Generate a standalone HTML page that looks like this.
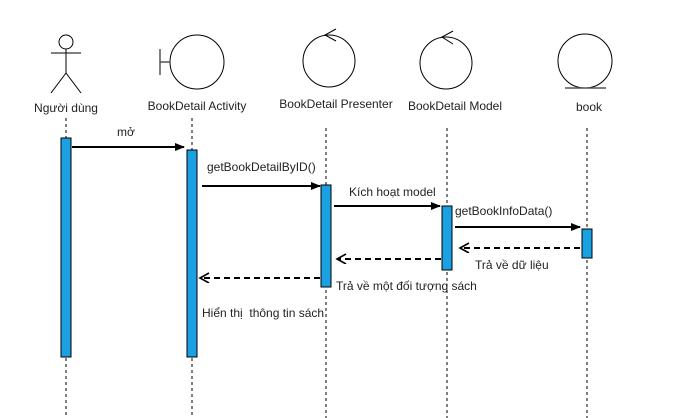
<!DOCTYPE html>
<html><head><meta charset="utf-8"><style>body{margin:0;background:#fff}svg{display:block}text{font-family:"Liberation Sans","DejaVu Sans",sans-serif;font-size:12px;fill:#222}</style></head>
<body>
<svg width="686" height="418" viewBox="0 0 686 418">
<defs>
<marker id="fa" markerWidth="10" markerHeight="10" refX="9" refY="4" orient="auto" markerUnits="userSpaceOnUse"><path d="M0,0 L10,4 L0,8 z" fill="#000"/></marker>
<marker id="oa" markerWidth="12" markerHeight="12" refX="10" refY="5" orient="auto" markerUnits="userSpaceOnUse"><path d="M1,0 L10,5 L1,10" fill="none" stroke="#000" stroke-width="1.6"/></marker>
</defs>
<g stroke="#000" stroke-width="1" stroke-dasharray="3,3" fill="none">
<line x1="66" y1="118" x2="66" y2="418"/><line x1="192" y1="118" x2="192" y2="418"/><line x1="326" y1="128" x2="326" y2="418"/><line x1="447" y1="128" x2="447" y2="418"/><line x1="587" y1="128" x2="587" y2="418"/>
</g>
<g stroke="#000" fill="none" stroke-width="1">
<circle cx="66" cy="42" r="7"/><line x1="66" y1="49" x2="66" y2="73"/><line x1="51" y1="53" x2="81" y2="53"/><line x1="66" y1="73" x2="51" y2="93"/><line x1="66" y1="73" x2="81" y2="93"/>
</g>
<text x="66" y="112" text-anchor="middle">Người dùng</text>
<g stroke-width="1" fill="none">
<circle cx="197" cy="62" r="27" stroke="#000"/><line x1="160" y1="49" x2="160" y2="75" stroke="#555" stroke-width="1.5"/><line x1="160" y1="62" x2="170" y2="62" stroke="#555" stroke-width="1.5"/>
</g>
<text x="197" y="110" text-anchor="middle">BookDetail Activity</text>
<g stroke="#000" fill="none">
<circle cx="329" cy="61" r="26"/><path d="M336,29 L325,35 L336,41"/>
</g>
<text x="336" y="108" text-anchor="middle">BookDetail Presenter</text>
<g stroke="#000" fill="none">
<circle cx="446" cy="63" r="26"/><path d="M453,31 L442,37 L453,44"/>
</g>
<text x="455" y="110" text-anchor="middle">BookDetail Model</text>
<g fill="none">
<circle cx="585" cy="61" r="27" stroke="#000"/><line x1="565" y1="88" x2="606" y2="88" stroke="#555" stroke-width="1.5"/>
</g>
<text x="589" y="111" text-anchor="middle">book</text>
<g fill="#1ba1e2" stroke="#000" stroke-width="1">
<rect x="61" y="138" width="10" height="219"/><rect x="187" y="150" width="10" height="207"/><rect x="321" y="185" width="10" height="102"/><rect x="442" y="206" width="10" height="64"/><rect x="582" y="229" width="10" height="29"/>
</g>
<g stroke="#000" stroke-width="2" fill="none">
<line x1="72" y1="147" x2="184" y2="147" marker-end="url(#fa)"/>
<line x1="202" y1="186" x2="320" y2="186" marker-end="url(#fa)"/>
<line x1="334" y1="206" x2="440" y2="206" marker-end="url(#fa)"/>
<line x1="455" y1="227" x2="580" y2="227" marker-end="url(#fa)"/>
<line x1="580" y1="248" x2="460" y2="248" stroke-dasharray="6,4" marker-end="url(#oa)"/>
<line x1="441" y1="259" x2="337" y2="259" stroke-dasharray="6,4" marker-end="url(#oa)"/>
<line x1="320" y1="278" x2="200" y2="278" stroke-dasharray="6,4" marker-end="url(#oa)"/>
</g>
<text x="117" y="136">mở</text>
<text x="207" y="171">getBookDetailByID()</text>
<text x="349" y="196">Kích hoạt model</text>
<text x="455" y="215">getBookInfoData()</text>
<text x="475" y="269">Trả về dữ liệu</text>
<text x="336" y="290">Trả về một đối tượng sách</text>
<text x="202" y="317">Hiển thị&#160; thông tin sách</text>
</svg>
</body></html>
